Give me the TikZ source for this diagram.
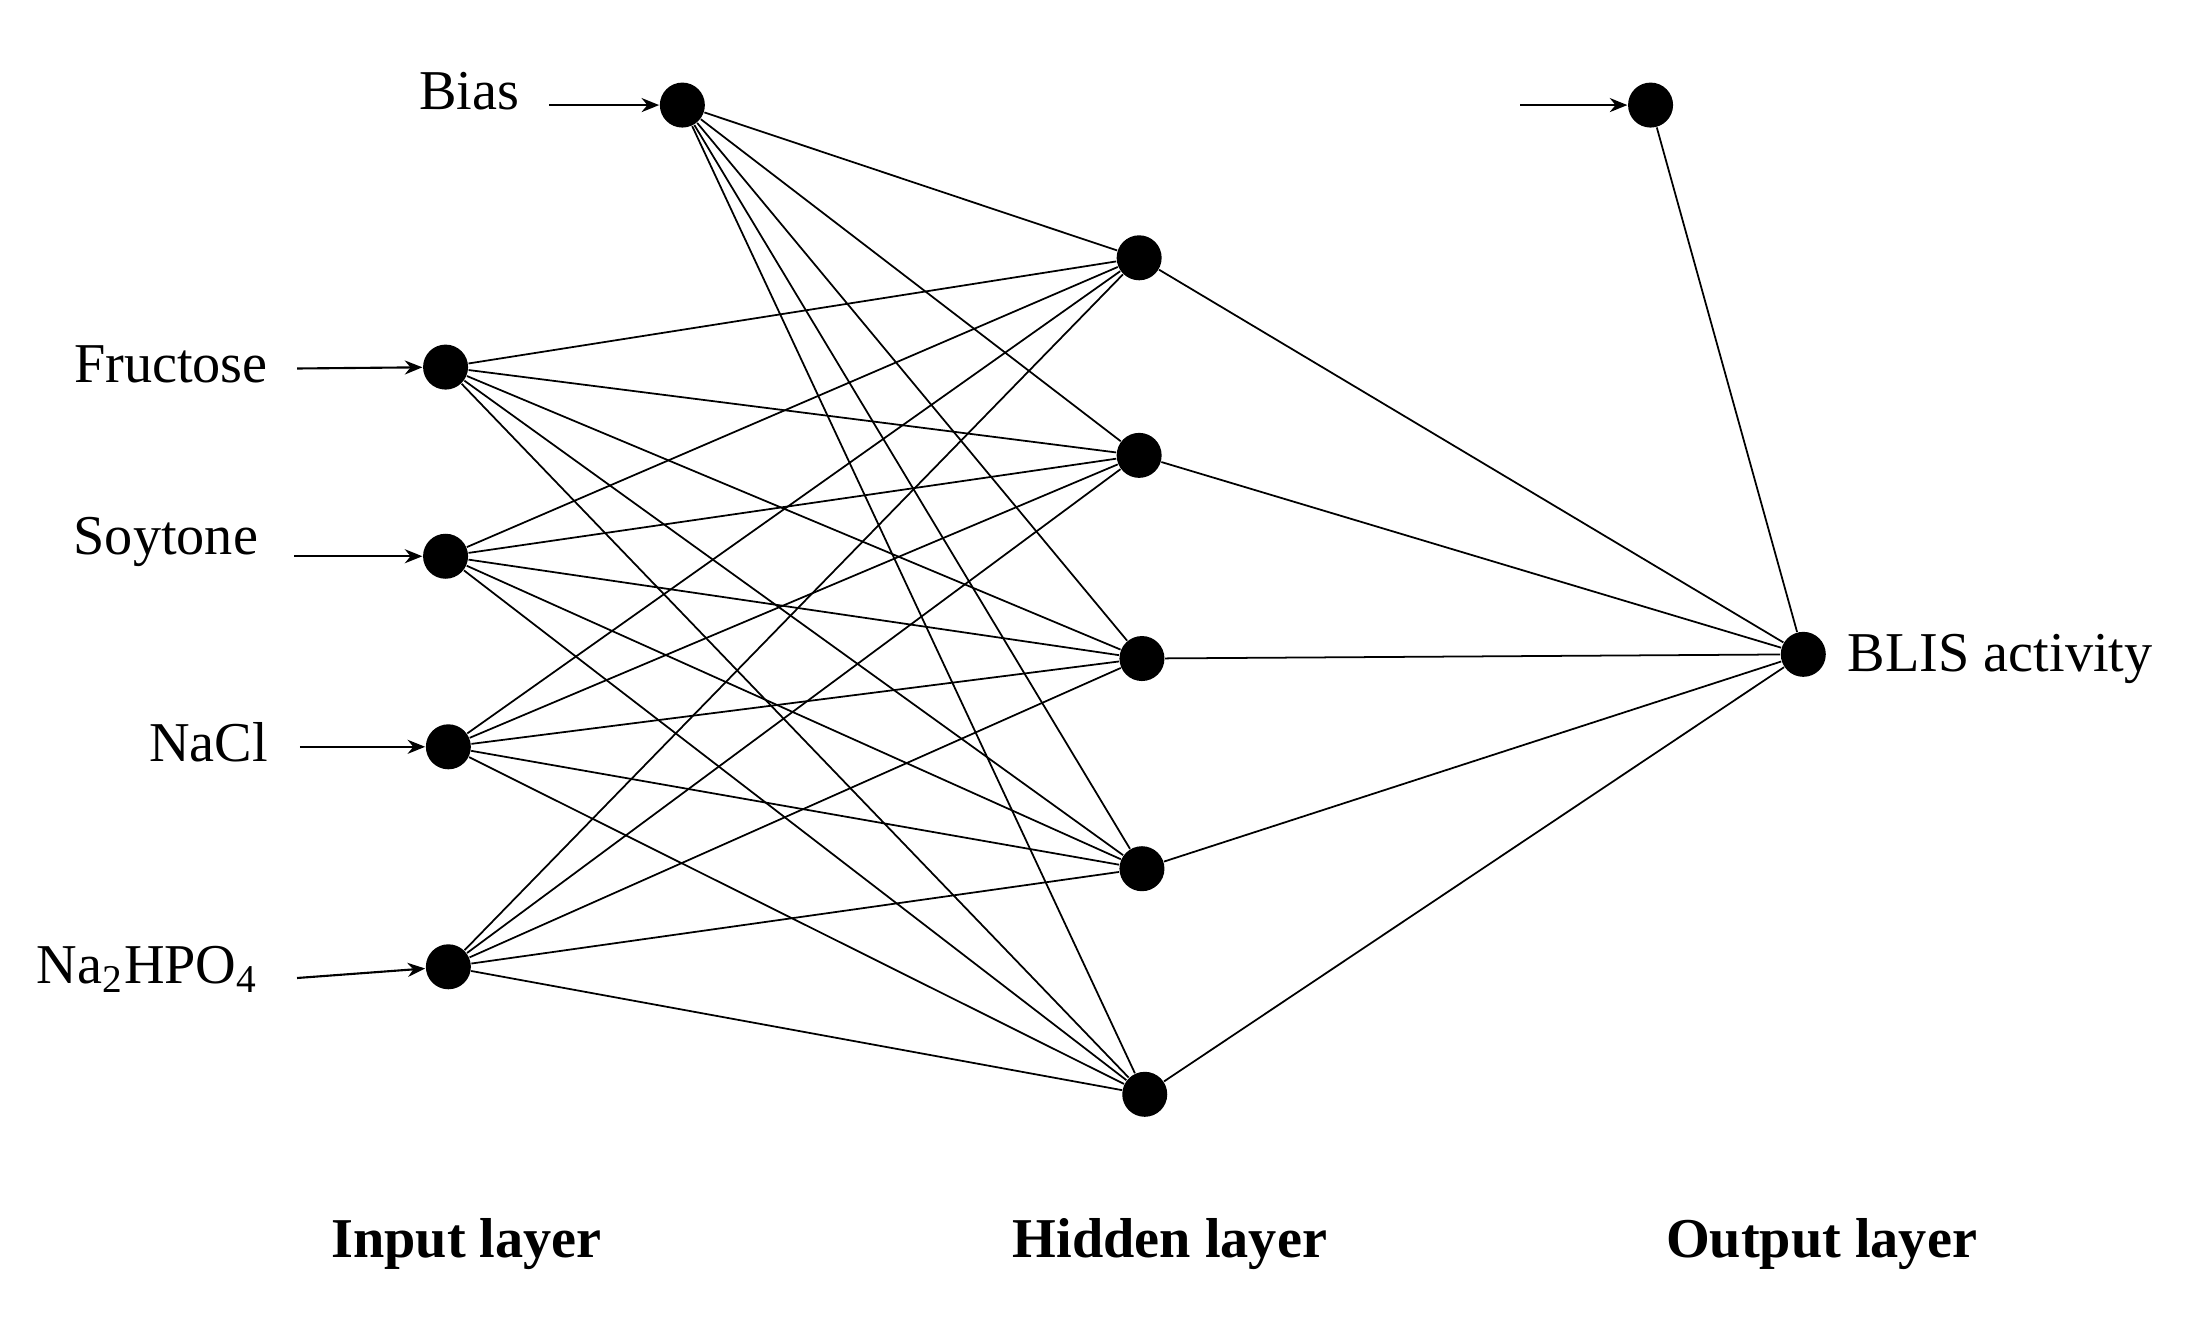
\documentclass[tikz,border=0pt]{standalone}
\usepackage{fontspec}
\setmainfont{Liberation Serif}
\usetikzlibrary{arrows.meta}
\begin{document}
\begin{tikzpicture}[x=0.01401cm,y=-0.01401cm,
  neuron/.style={circle,fill=black,inner sep=0pt,minimum size=0.45cm},
  lab/.style={font=\fontsize{16}{19}\selectfont},
  layer/.style={font=\fontsize{16}{19}\selectfont\bfseries},
  edge/.style={line width=0.5pt},
  inarrow/.style={line width=0.6pt,-{Stealth[length=5pt,width=4pt]}}]
\useasboundingbox (0,0) rectangle (1568,943);
\node[neuron] (b) at (487,75) {};
\node[neuron] (ob) at (1178,75) {};
\node[neuron] (i1) at (318,262) {};
\node[neuron] (i2) at (318,397) {};
\node[neuron] (i3) at (320,533) {};
\node[neuron] (i4) at (320,690) {};
\node[neuron] (h1) at (813,184) {};
\node[neuron] (h2) at (813,325) {};
\node[neuron] (h3) at (815,470) {};
\node[neuron] (h4) at (815,620) {};
\node[neuron] (h5) at (817,781) {};
\node[neuron] (o) at (1287,467) {};
\foreach \s in {b,i1,i2,i3,i4}
  \foreach \h in {h1,h2,h3,h4,h5}
    \draw[edge] (\s) -- (\h);
\foreach \h in {h1,h2,h3,h4,h5}
  \draw[edge] (\h) -- (o);
\draw[edge] (ob) -- (o);
\node[lab] (tb) at (335,65) {Bias};
\node[lab,anchor=east] (t1) at (200,260) {Fructose};
\node[lab,anchor=east] (t2) at (193,387) {Soytone};
\node[lab,anchor=east] (t3) at (200,530) {NaCl};
\node[lab,anchor=east] (t4) at (193,692) {Na\textsubscript{2}HPO\textsubscript{4}};
\node[lab,anchor=west] (to) at (1310,470) {BLIS activity};
\coordinate (ab) at (392,75);
\coordinate (aob) at (1085,75);
\coordinate (a1) at (212,263);
\coordinate (a2) at (210,397);
\coordinate (a3) at (214,533);
\coordinate (a4) at (212,698);
\draw[inarrow] (ab) -- (b);
\draw[inarrow] (aob) -- (ob);
\draw[inarrow] (a1) -- (i1);
\draw[inarrow] (a2) -- (i2);
\draw[inarrow] (a3) -- (i3);
\draw[inarrow] (a4) -- (i4);
\node[layer] (l1) at (333,888) {Input layer};
\node[layer] (l2) at (835,888) {Hidden layer};
\node[layer] (l3) at (1300,888) {Output layer};
\end{tikzpicture}
\end{document}
